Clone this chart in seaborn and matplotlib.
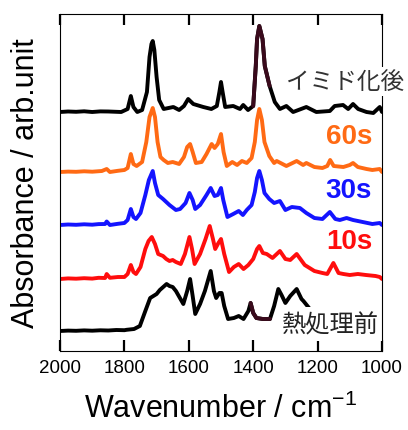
import numpy as np
import pandas as pd
import seaborn as sns
import matplotlib.pyplot as plt

# wavenumber (cm-1) and absorbance above each baseline
wn_before = [2000, 1975, 1950, 1925, 1900, 1875, 1850, 1825, 1800, 1793, 1770, 1752, 1735, 1720,
             1710, 1700, 1690, 1669, 1660, 1650, 1640, 1617, 1605, 1596, 1588, 1580, 1565, 1550,
             1532, 1522, 1515, 1505, 1498, 1490, 1478, 1460, 1445, 1430, 1415, 1408, 1400, 1390,
             1370, 1348, 1335, 1322, 1312, 1300, 1285, 1265, 1250, 1244, 1224, 1200, 1170, 1130,
             1100, 1000]
abs_before = [0, 0.004, 0.002, 0.006, 0.003, 0.007, 0.005, 0.01, 0.008, 0.012, 0.02, 0.05, 0.2, 0.33,
              0.35, 0.37, 0.41, 0.47, 0.45, 0.44, 0.4, 0.27, 0.4, 0.52, 0.35, 0.17, 0.27, 0.4,
              0.6, 0.4, 0.33, 0.38, 0.38, 0.25, 0.12, 0.13, 0.15, 0.12, 0.2, 0.28, 0.18, 0.13,
              0.12, 0.12, 0.25, 0.42, 0.36, 0.28, 0.35, 0.42, 0.32, 0.3, 0.22, 0.12, 0.05, 0.01,
              0, 0]

wn_10s = [2000, 1975, 1950, 1925, 1900, 1880, 1860, 1855, 1845, 1820, 1800, 1790, 1780, 1772,
          1764, 1750, 1735, 1725, 1715, 1705, 1695, 1680, 1670, 1660, 1650, 1640, 1625, 1612,
          1598, 1590, 1582, 1565, 1548, 1535, 1525, 1518, 1508, 1500, 1490, 1475, 1460, 1445,
          1430, 1415, 1400, 1388, 1381, 1370, 1358, 1340, 1317, 1300, 1285, 1265, 1240, 1225,
          1210, 1185, 1170, 1151, 1135, 1120, 1100, 1075, 1050, 1020, 1007, 1000]
abs_10s = [0, 0.006, 0.003, 0.008, 0.004, 0.012, 0.01, 0.05, 0.012, 0.02, 0.02, 0.05, 0.14, 0.07,
           0.05, 0.12, 0.3, 0.38, 0.42, 0.35, 0.25, 0.23, 0.2, 0.18, 0.19, 0.17, 0.15, 0.25,
           0.42, 0.3, 0.15, 0.25, 0.4, 0.53, 0.4, 0.3, 0.36, 0.4, 0.25, 0.07, 0.12, 0.15,
           0.1, 0.14, 0.2, 0.3, 0.33, 0.26, 0.25, 0.21, 0.28, 0.2, 0.19, 0.25, 0.14, 0.11,
           0.08, 0.06, 0.05, 0.16, 0.06, 0.05, 0.04, 0.05, 0.04, 0.03, 0.02, 0]

wn_30s = [2000, 1975, 1950, 1925, 1900, 1880, 1860, 1855, 1845, 1820, 1800, 1790, 1780, 1772,
          1764, 1750, 1735, 1724, 1712, 1705, 1695, 1680, 1660, 1640, 1627, 1610, 1598, 1588,
          1580, 1565, 1545, 1532, 1520, 1510, 1500, 1493, 1480, 1462, 1445, 1432, 1420, 1405,
          1395, 1388, 1381, 1373, 1365, 1350, 1335, 1317, 1300, 1280, 1255, 1235, 1210, 1185,
          1162, 1145, 1131, 1110, 1090, 1075, 1060, 1030, 1007, 1000]
abs_30s = [0, 0.005, 0.002, 0.007, 0.003, 0.009, 0.01, 0.035, 0, 0.012, 0.02, 0.05, 0.16, 0.08,
           0.06, 0.12, 0.3, 0.45, 0.54, 0.42, 0.3, 0.26, 0.2, 0.15, 0.16, 0.22, 0.32, 0.25,
           0.16, 0.2, 0.3, 0.37, 0.29, 0.3, 0.37, 0.25, 0.08, 0.11, 0.14, 0.1, 0.15, 0.2,
           0.33, 0.47, 0.54, 0.45, 0.32, 0.26, 0.22, 0.24, 0.15, 0.18, 0.17, 0.12, 0.07, 0.06,
           0.13, 0.06, 0.05, 0.07, 0.05, 0.04, 0.03, 0.01, 0.02, 0]

wn_60s = [2000, 1975, 1950, 1925, 1900, 1870, 1855, 1845, 1820, 1800, 1790, 1780, 1772, 1762,
          1745, 1732, 1722, 1712, 1705, 1697, 1688, 1678, 1665, 1650, 1630, 1615, 1605, 1596,
          1588, 1578, 1560, 1545, 1529, 1520, 1510, 1500, 1492, 1482, 1465, 1450, 1435, 1420,
          1405, 1395, 1388, 1381, 1373, 1365, 1350, 1335, 1327, 1297, 1265, 1245, 1235, 1210,
          1185, 1170, 1161, 1150, 1120, 1100, 1090, 1075, 1048, 1030, 1007, 1000]
abs_60s = [0, 0.004, 0.002, 0.007, 0.003, 0.01, 0.03, 0, 0.012, 0.02, 0.04, 0.18, 0.08, 0.06,
           0.1, 0.3, 0.55, 0.64, 0.55, 0.3, 0.15, 0.12, 0.09, 0.1, 0.08, 0.15, 0.25, 0.28,
           0.2, 0.09, 0.1, 0.18, 0.28, 0.24, 0.28, 0.38, 0.2, 0.06, 0.1, 0.07, 0.11, 0.09,
           0.14, 0.3, 0.52, 0.63, 0.52, 0.3, 0.16, 0.09, 0.11, 0.06, 0.11, 0.07, 0.09, 0.05,
           0.04, 0.06, 0.12, 0.06, 0.05, 0.07, 0.09, 0.05, 0.03, 0.02, 0.03, 0]

wn_imide = [2000, 1975, 1950, 1925, 1900, 1875, 1850, 1810, 1790, 1780, 1772, 1760, 1745, 1730,
            1722, 1716, 1712, 1707, 1700, 1692, 1678, 1648, 1630, 1615, 1602, 1586, 1555, 1530,
            1513, 1505, 1500, 1495, 1487, 1462, 1441, 1431, 1416, 1400, 1392, 1388, 1381, 1371,
            1364, 1349, 1333, 1317, 1297, 1276, 1235, 1204, 1162, 1147, 1121, 1105, 1090, 1074,
            1048, 1027, 1007, 1000]
abs_imide = [0, 0.005, 0.002, 0.007, 0, 0.006, 0.005, 0, 0.03, 0.16, 0.05, 0, 0.02, 0.2,
             0.55, 0.68, 0.71, 0.62, 0.35, 0.12, 0.03, 0.05, 0.02, 0.06, 0.13, 0.08, 0.05, 0.03,
             0.06, 0.2, 0.3, 0.2, 0.05, 0.06, 0.03, 0.07, 0.02, 0.06, 0.46, 0.73, 0.86, 0.73,
             0.46, 0.26, 0.1, 0.03, 0.06, 0, 0.05, 0, 0.01, 0.06, 0.07, 0.03, 0.08, 0.03,
             0, -0.01, 0.05, 0]

names = ["熱処理前", "10s", "30s", "60s", "イミド化後"]
offsets = [0.20, 0.72, 1.26, 1.79, 2.39]
colors = ["#000000", "#ff0d0d", "#1414ff", "#ff6a14", "#000000"]
spectra = [(wn_before, abs_before), (wn_10s, abs_10s), (wn_30s, abs_30s),
           (wn_60s, abs_60s), (wn_imide, abs_imide)]
ticks = [2000, 1800, 1600, 1400, 1200, 1000]

sns.set_style("ticks", rc={"axes.edgecolor": "black", "axes.linewidth": 2,
                           "xtick.direction": "in", "xtick.top": True, "xtick.bottom": True,
                           "xtick.color": "black", "xtick.major.size": 8,
                           "xtick.major.width": 1.6, "axes.labelcolor": "black",
                           "text.color": "black"})
plt.rcParams["font.family"] = ["Liberation Sans", "Noto Sans CJK JP", "DejaVu Sans"]

fig = plt.figure(figsize=(4.08, 4.31), dpi=100)
ax = fig.add_axes([60 / 408, 79 / 431, 322 / 408, 337 / 431])

for (wn, ab), off, c in zip(spectra, offsets, colors):
    df = pd.DataFrame({"wn": wn, "A": np.array(ab) + off})
    sns.lineplot(data=df, x="wn", y="A", color=c, lw=2.8, ax=ax)
    if c == "#000000":
        seg = df[(df.wn <= 1408) & (df.wn >= 1345)]
        sns.lineplot(data=seg, x="wn", y="A", color="#3a0a1c", lw=2.8, ax=ax)

ax.set_xlim(2000, 1000)
ax.set_ylim(0, 3.37)
ax.set_xticks(ticks)
ax.set_yticks([])
ax.tick_params(axis="x", which="major", bottom=True, top=True, direction="in",
               length=8, width=1.6, color="black", labelsize=13.5, pad=6)

ax.set_xlabel("Wavenumber / cm$^{\\mathregular{-1}}$", fontsize=22, labelpad=12)
ax.set_ylabel("Absorbance / arb.unit", fontsize=22, labelpad=14)

cjk = ["Noto Sans CJK JP", "DejaVu Sans"]
ax.text(0.885, 0.80, names[4], transform=ax.transAxes, ha="center", va="center",
        fontsize=17, color="#333333", family=cjk, zorder=5,
        bbox=dict(fc="white", ec="none", pad=2))
for i, y in zip([3, 2, 1], [0.638, 0.478, 0.326]):
    ax.text(0.969, y, names[i], transform=ax.transAxes, ha="right", va="center",
            fontsize=20, color=colors[i], fontweight="bold")
ax.text(0.839, 0.080, names[0], transform=ax.transAxes, ha="center", va="center",
        fontsize=17.5, color="#222222", family=cjk, zorder=2.2,
        bbox=dict(fc="white", ec="none", pad=3))

plt.savefig("out.png", dpi=100)
